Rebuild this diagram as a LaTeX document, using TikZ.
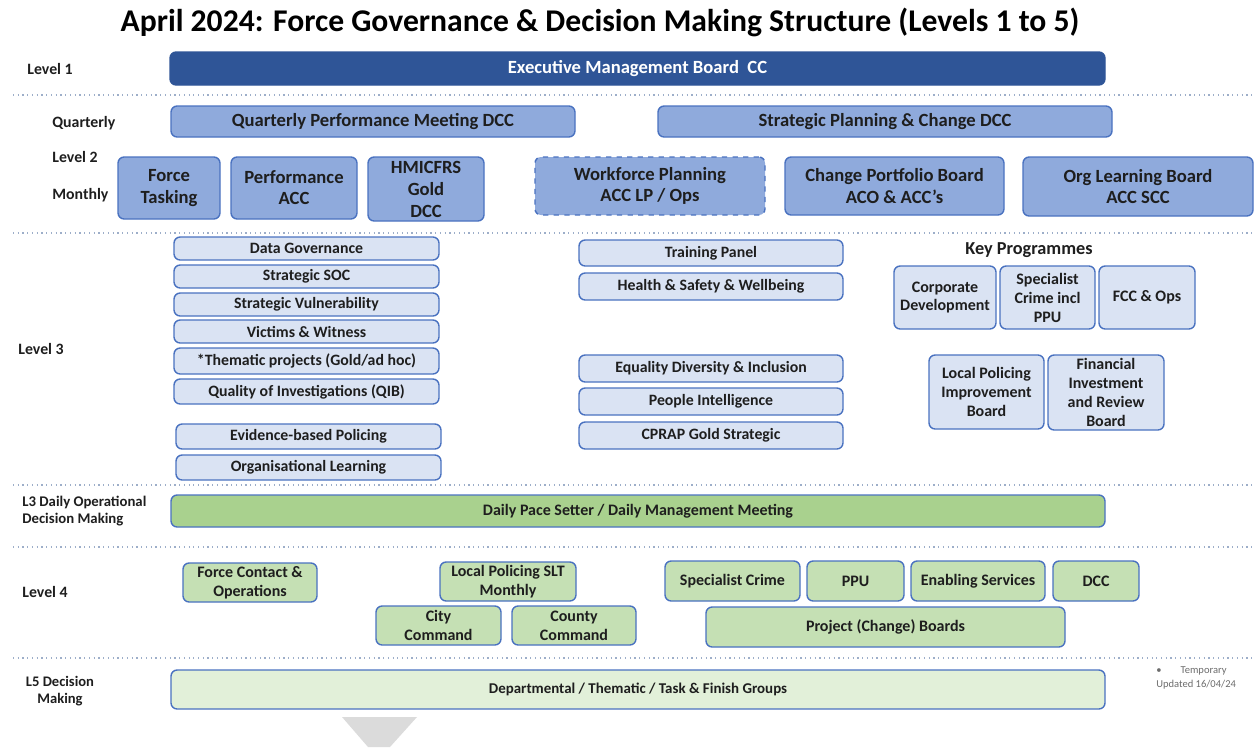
\documentclass[tikz,border=0pt]{standalone}
\usepackage{fontspec}
\setmainfont{Carlito}

\definecolor{navy}{HTML}{2F5597}
\definecolor{midblue}{HTML}{8FAADC}
\definecolor{paleblue}{HTML}{DAE3F3}
\definecolor{edgeblue}{HTML}{4A72C0}
\definecolor{midgreen}{HTML}{A9D18E}
\definecolor{lightgreen}{HTML}{C5E0B4}
\definecolor{palegreen}{HTML}{E2F0D9}
\definecolor{rulegray}{HTML}{9DAEC9}
\definecolor{inkgray}{HTML}{1E1E1E}

\begin{document}
\begin{tikzpicture}[x=0.02cm, y=-0.02cm,
    boxsize/.style 2 args={minimum width=#1*0.02cm, minimum height=#2*0.02cm},
    board/.style={draw=edgeblue, line width=0.8pt, rounded corners=3.5pt,
        inner sep=0pt, align=center, text=inkgray, font=\bfseries},
    topboard/.style={board, fill=navy, draw=navy, text=white, font=\bfseries\fontsize{10.6}{12}\selectfont},
    lvtwo/.style={board, fill=midblue, font=\bfseries\fontsize{10.6}{12}\selectfont},
    lvthree/.style={board, fill=paleblue, font=\bfseries\fontsize{9}{10.8}\selectfont},
    keyprog/.style={lvthree, font=\bfseries\fontsize{9.1}{10.8}\selectfont},
    daily/.style={board, fill=midgreen, font=\bfseries\fontsize{9.1}{11}\selectfont},
    lvfour/.style={board, fill=lightgreen, font=\bfseries\fontsize{9.1}{10.8}\selectfont},
    lvfive/.style={board, fill=palegreen, font=\bfseries\fontsize{8.5}{10}\selectfont},
    levellabel/.style={anchor=west, inner sep=0pt, align=left, text=inkgray,
        font=\bfseries\fontsize{9}{10}\selectfont},
    separator/.style={rulegray, dotted, line width=0.7pt}
]

    % Page
    \useasboundingbox (0,0) rectangle (1254,747);

    % Title
    \node[text=black, font=\bfseries\fontsize{18}{21}\selectfont] (title) at (600,22)
        {April 2024: Force Governance \& Decision Making Structure (Levels 1 to 5)};

    % Separators between the levels
    \foreach \y in {95,233,485,547,658} {
        \draw[separator] (13,\y) -- (1254,\y);
    }

    % Level labels
    \node[levellabel] (lone) at (27,69) {Level 1};
    \node[levellabel] (quarterly) at (52,123) {Quarterly};
    \node[levellabel] (ltwo) at (52,157) {Level 2};
    \node[levellabel] (monthly) at (52,195) {Monthly};
    \node[levellabel] (lthree) at (18,349) {Level 3};
    \node[levellabel, font=\bfseries\fontsize{8.4}{9.8}\selectfont] (lthreedaily) at (22,511)
        {L3 Daily Operational\\Decision Making};
    \node[levellabel] (lfour) at (22,592) {Level 4};
    \node[levellabel, anchor=center, align=center, font=\bfseries\fontsize{8.3}{9.8}\selectfont] (lfive) at (60,691)
        {L5 Decision\\Making};

    % Level 1
    \node[topboard, boxsize={935}{33}] (emb) at (637.5,68.5) {Executive Management Board\ \ CC};

    % Level 2 - quarterly
    \node[lvtwo, boxsize={404}{31}] (qpm) at (373,121.5) {Quarterly Performance Meeting DCC};
    \node[lvtwo, boxsize={454}{31}] (spc) at (885,121.5) {Strategic Planning \& Change DCC};

    % Level 2 - monthly
    \node[lvtwo, boxsize={102}{62}] (tasking) at (169,188) {Force\\Tasking};
    \node[lvtwo, boxsize={126}{62}] (perf) at (294,188) {Performance\\ACC};
    \node[lvtwo, boxsize={116}{64}, font=\bfseries\fontsize{10.6}{12.5}\selectfont] (hmicfrs) at (426,189)
        {HMICFRS\\Gold\\DCC};
    \node[lvtwo, dashed, boxsize={230}{58}] (workforce) at (650,186) {Workforce Planning\\ACC LP / Ops};
    \node[lvtwo, boxsize={219}{58}] (portfolio) at (894.5,186) {Change Portfolio Board\\ACO \& ACC's};
    \node[lvtwo, boxsize={230}{59}] (orglearn) at (1138,186.5) {Org Learning Board\\ACC SCC};

    % Level 3 - left column
    \node[lvthree, boxsize={265}{23}] (datagov) at (306.5,248.5) {Data Governance};
    \node[lvthree, boxsize={265}{23}] (soc) at (306.5,276.5) {Strategic SOC};
    \node[lvthree, boxsize={265}{23}] (vuln) at (306.5,304.5) {Strategic Vulnerability};
    \node[lvthree, boxsize={265}{23}] (victims) at (306.5,331.5) {Victims \& Witness};
    \node[lvthree, boxsize={265}{26}] (thematic) at (306.5,361) {*Thematic projects (Gold/ad hoc)};
    \node[lvthree, boxsize={265}{25}] (qib) at (306.5,391.5) {Quality of Investigations (QIB)};
    \node[lvthree, boxsize={265}{25}] (ebp) at (308.5,436.5) {Evidence-based Policing};
    \node[lvthree, boxsize={265}{25}] (orglearning) at (308.5,467.5) {Organisational Learning};

    % Level 3 - middle column
    \node[lvthree, boxsize={264}{26}] (training) at (711,253) {Training Panel};
    \node[lvthree, boxsize={264}{27}] (safety) at (711,286.5) {Health \& Safety \& Wellbeing};
    \node[lvthree, boxsize={264}{27}] (edi) at (711,368.5) {Equality Diversity \& Inclusion};
    \node[lvthree, boxsize={264}{27}] (people) at (711,401.5) {People Intelligence};
    \node[lvthree, boxsize={264}{27}] (cprap) at (711,435.5) {CPRAP Gold Strategic};

    % Level 3 - key programmes
    \node[text=inkgray, font=\bfseries\fontsize{10.4}{12}\selectfont] (keyprogs) at (1029,250) {Key Programmes};
    \node[keyprog, boxsize={102}{63}] (corpdev) at (945,297.5) {Corporate\\Development};
    \node[keyprog, boxsize={95}{63}] (speccrime) at (1047.5,297.5) {Specialist\\Crime incl\\PPU};
    \node[keyprog, boxsize={96}{63}] (fcc) at (1147,297.5) {FCC \& Ops};
    \node[keyprog, boxsize={115}{74}] (lpib) at (986.5,392) {Local Policing\\Improvement\\Board};
    \node[keyprog, boxsize={116}{75}] (firb) at (1106,392.5) {Financial\\Investment\\and Review\\Board};

    % L3 daily
    \node[daily, boxsize={934}{32}] (pacesetter) at (638,511) {Daily Pace Setter / Daily Management Meeting};

    % Level 4
    \node[lvfour, boxsize={134}{39}] (fco) at (250,582.5) {Force Contact \&\\Operations};
    \node[lvfour, boxsize={136}{39}] (lpslt) at (508,581.5) {Local Policing SLT\\Monthly};
    \node[lvfour, boxsize={125}{39}] (city) at (438.5,625.5) {City\\Command};
    \node[lvfour, boxsize={124}{39}] (county) at (574,625.5) {County\\Command};
    \node[lvfour, boxsize={135}{40}] (l4crime) at (732.5,581) {Specialist Crime};
    \node[lvfour, boxsize={97}{40}] (ppu) at (855.5,581) {PPU};
    \node[lvfour, boxsize={134}{40}] (enabling) at (978,581) {Enabling Services};
    \node[lvfour, boxsize={86}{40}] (dcc) at (1096,581) {DCC};
    \node[lvfour, boxsize={359}{40}] (projects) at (885.5,627) {Project (Change) Boards};

    % Level 5
    \node[lvfive, boxsize={934}{39}] (groups) at (638,689.5) {Departmental / Thematic / Task \& Finish Groups};

    % Note
    \node[anchor=north west, inner sep=0pt, align=left, text=gray!85!black,
        font=\fontsize{6}{8}\selectfont] (note) at (1156,666)
        {\textbullet\hspace{1.8em}Temporary\\Updated 16/04/24};

    % Arrow head below
    \fill[gray!28] (342,717) -- (417,717) -- (390,747) -- (368,747) -- cycle;

\end{tikzpicture}
\end{document}
